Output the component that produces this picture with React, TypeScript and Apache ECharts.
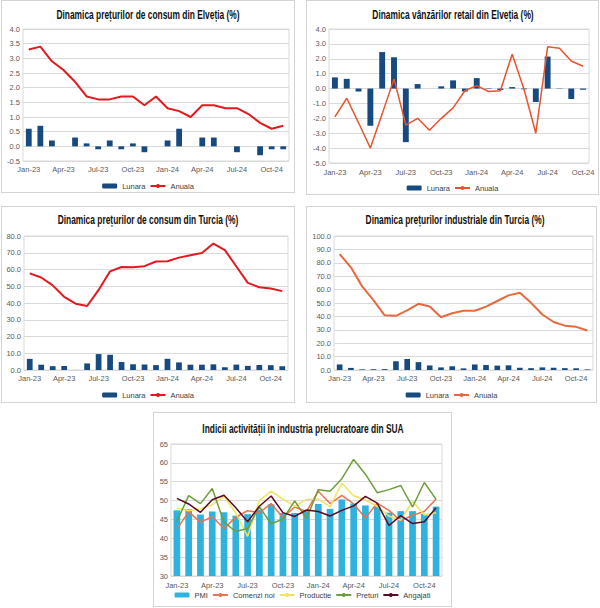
import React, { useEffect, useRef } from "react";
import * as echarts from "echarts";

// ---------- DATA ----------
const months23 = [
  "Jan-23", "Feb-23", "Mar-23", "Apr-23", "May-23", "Jun-23", "Jul-23", "Aug-23", "Sep-23", "Oct-23", "Nov-23", "Dec-23",
  "Jan-24", "Feb-24", "Mar-24", "Apr-24", "May-24", "Jun-24", "Jul-24", "Aug-24", "Sep-24", "Oct-24", "Nov-24",
];
const months22 = months23.slice(0, 22);

const chCpiMonthly = [0.6, 0.7, 0.2, 0.0, 0.3, 0.1, -0.1, 0.2, -0.1, 0.1, -0.2, 0.0, 0.2, 0.6, 0.0, 0.3, 0.3, 0.0, -0.2, 0.0, -0.3, -0.1, -0.1];
const chCpiAnnual = [3.3, 3.4, 2.9, 2.6, 2.2, 1.7, 1.6, 1.6, 1.7, 1.7, 1.4, 1.7, 1.3, 1.2, 1.0, 1.4, 1.4, 1.3, 1.3, 1.1, 0.8, 0.6, 0.7];

const chRetailMonthly = [0.75, 0.65, -0.2, -2.5, 2.45, 2.1, -3.6, 0.3, 0.0, 0.15, 0.55, -0.2, 0.7, 0.03, -0.1, 0.1, -0.05, -0.9, 2.15, 0.02, -0.7, -0.08];
const chRetailAnnual = [-1.9, -0.65, -2.3, -4.0, -1.7, 0.65, -2.45, -2.0, -2.8, -2.0, -1.3, -0.15, 0.2, -0.2, -0.15, 2.3, -0.05, -3.0, 2.8, 2.7, 1.85, 1.5];

const trCpiMonthly = [6.65, 3.15, 2.29, 2.39, 0.04, 3.92, 9.49, 9.09, 4.75, 3.43, 3.28, 2.93, 6.7, 4.53, 3.16, 3.18, 3.37, 1.64, 3.23, 2.47, 2.97, 2.88, 2.24];
const trCpiAnnual = [57.7, 55.2, 50.5, 43.7, 39.6, 38.2, 47.8, 58.9, 61.5, 61.4, 62.0, 64.8, 64.9, 67.1, 68.5, 69.8, 75.5, 71.6, 61.8, 52.0, 49.4, 48.6, 47.1];

const trPpiMonthly = [4.15, 1.56, 0.45, 0.56, 0.65, 6.5, 8.23, 5.89, 3.4, 1.94, 2.77, 1.22, 4.14, 3.74, 3.29, 3.48, 1.67, 1.38, 1.94, 1.68, 1.37, 1.29, 0.42];
const trPpiAnnual = [86.5, 76.6, 62.4, 52.1, 40.8, 40.4, 44.5, 49.4, 47.4, 39.4, 42.3, 44.2, 44.2, 47.3, 51.5, 55.7, 57.7, 50.1, 41.4, 35.8, 33.1, 32.2, 29.5];

const usPmi = [47.4, 47.7, 46.3, 47.1, 46.9, 46.0, 46.4, 47.6, 49.0, 46.7, 46.7, 47.4, 49.1, 47.8, 50.3, 49.2, 48.7, 48.5, 46.8, 47.2, 47.2, 46.5, 48.4];
const usNewOrders = [42.5, 47.0, 44.3, 45.7, 42.6, 45.6, 47.3, 46.8, 49.2, 45.5, 48.3, 47.1, 52.5, 49.2, 51.4, 49.1, 45.4, 49.3, 47.4, 44.6, 46.1, 47.1, 50.4];
const usProduction = [48.0, 47.3, 47.8, 48.9, 51.1, 46.7, 40.5, 50.0, 52.5, 50.4, 48.5, 50.3, 50.4, 48.4, 54.6, 51.3, 50.2, 48.5, 45.9, 44.8, 49.8, 46.2, 46.8];
const usPrices = [44.5, 51.3, 49.2, 53.2, 44.2, 41.8, 42.6, 48.4, 43.8, 45.1, 49.9, 45.2, 52.9, 52.5, 55.8, 60.9, 57.0, 52.1, 52.9, 54.0, 48.3, 54.8, 50.3];
const usEmployment = [50.6, 49.1, 46.9, 50.2, 51.4, 48.1, 44.4, 48.5, 51.2, 46.8, 45.8, 47.5, 47.1, 45.9, 47.4, 48.6, 51.1, 49.3, 43.4, 46.0, 43.9, 44.4, 48.1];

// ---------- STYLE ----------
const FONT = "'Liberation Sans', Arial, sans-serif";
const NAVY = "#174A7E";
const GRID = "#d9d9d9";
const LABEL = "#595959";
const TITLE_SCALE = 0.7;

type Panel = {
  box: { left: number; top: number; width: number; height: number };
  title: string;
  titlePos: [number, number];
  grid: { left: number; right: number; top: number; bottom: number };
  legendTop: number;
  labelMargin: number;
  categories: string[];
  yMin: number;
  yMax: number;
  yInterval: number;
  yDecimals: number;
  series: any[];
};

function buildOption(p: Panel) {
  return {
    animation: false,
    textStyle: { fontFamily: FONT },
    graphic: [
      {
        type: "text",
        x: p.titlePos[0],
        y: p.titlePos[1],
        scaleX: TITLE_SCALE,
        scaleY: 1,
        style: {
          text: p.title,
          font: "bold 12px 'Liberation Sans', Arial, sans-serif",
          fill: "#111",
          textAlign: "center",
          textVerticalAlign: "middle",
          align: "center",
          verticalAlign: "middle",
        },
      },
    ],
    grid: { ...p.grid, show: true, borderColor: GRID, borderWidth: 1, containLabel: false },
    legend: {
      top: p.legendTop,
      left: "center",
      padding: 0,
      itemWidth: 15,
      itemHeight: 5,
      itemGap: 4,
      textStyle: { fontSize: 7.5, color: "#404040", fontFamily: FONT },
      data: p.series.map((s) => s.name),
    },
    xAxis: {
      type: "category",
      data: p.categories,
      boundaryGap: true,
      axisTick: { show: false },
      axisLine: { show: false },
      axisLabel: { interval: 2, fontSize: 7.5, color: LABEL, margin: p.labelMargin, fontFamily: FONT },
    },
    yAxis: {
      type: "value",
      min: p.yMin,
      max: p.yMax,
      interval: p.yInterval,
      axisLine: { show: false },
      axisTick: { show: false },
      axisLabel: {
        fontSize: 7.5,
        color: LABEL,
        margin: 3,
        fontFamily: FONT,
        formatter: (v: number) => v.toFixed(p.yDecimals),
      },
      splitLine: { lineStyle: { color: GRID, width: 1 } },
    },
    series: p.series,
  };
}

const barS = (name: string, data: number[], color: string, width = "50%") => ({
  name, type: "bar", data, barWidth: width, itemStyle: { color },
});
const lineS = (name: string, data: number[], color: string, width = 2) => ({
  name, type: "line", data, symbol: "none", lineStyle: { color, width }, itemStyle: { color },
});

const panels: Panel[] = [
  {
    box: { left: 1, top: 0, width: 294, height: 193 },
    title: "Dinamica prețurilor de consum din Elveția (%)",
    titlePos: [146, 14],
    grid: { left: 21, right: 5, top: 28, bottom: 31 },
    legendTop: 181,
    labelMargin: 4,
    categories: months23,
    yMin: -0.5, yMax: 4, yInterval: 0.5, yDecimals: 1,
    series: [barS("Lunara", chCpiMonthly, NAVY), lineS("Anuala", chCpiAnnual, "#E3191F", 2)],
  },
  {
    box: { left: 306, top: 0, width: 293, height: 195 },
    title: "Dinamica vânzărilor retail din Elveția (%)",
    titlePos: [146, 14],
    grid: { left: 22, right: 9, top: 28, bottom: 31 },
    legendTop: 183,
    labelMargin: 5,
    categories: months22,
    yMin: -5, yMax: 4, yInterval: 1, yDecimals: 1,
    series: [barS("Lunara", chRetailMonthly, NAVY), lineS("Anuala", chRetailAnnual, "#E9532E", 1.5)],
  },
  {
    box: { left: 1, top: 206, width: 294, height: 197 },
    title: "Dinamica prețurilor de consum din Turcia (%)",
    titlePos: [146, 13],
    grid: { left: 22, right: 6, top: 29, bottom: 32 },
    legendTop: 184,
    labelMargin: 4,
    categories: months23,
    yMin: 0, yMax: 80, yInterval: 10, yDecimals: 1,
    series: [barS("Lunara", trCpiMonthly, NAVY), lineS("Anuala", trCpiAnnual, "#E3191F", 2)],
  },
  {
    box: { left: 306, top: 206, width: 291, height: 197 },
    title: "Dinamica prețurilor industriale din Turcia (%)",
    titlePos: [148, 13],
    grid: { left: 27, right: 3, top: 29, bottom: 32 },
    legendTop: 184,
    labelMargin: 4,
    categories: months23,
    yMin: 0, yMax: 100, yInterval: 10, yDecimals: 1,
    series: [barS("Lunara", trPpiMonthly, NAVY), lineS("Anuala", trPpiAnnual, "#E8693D", 2)],
  },
  {
    box: { left: 153, top: 412, width: 299, height: 195 },
    title: "Indicii activității în industria prelucratoare din SUA",
    titlePos: [149, 16],
    grid: { left: 17, right: 9, top: 31, bottom: 30 },
    legendTop: 178,
    labelMargin: 5,
    categories: months23,
    yMin: 30, yMax: 65, yInterval: 5, yDecimals: 0,
    series: [
      barS("PMI", usPmi, "#2FB3DE", "57%"),
      lineS("Comenzi noi", usNewOrders, "#E8744F", 1.5),
      lineS("Productie", usProduction, "#F2E35C", 1.5),
      lineS("Preturi", usPrices, "#6E9E3C", 1.5),
      lineS("Angajati", usEmployment, "#5C0A24", 1.5),
    ],
  },
];

function ChartPanel({ panel }: { panel: Panel }) {
  const ref = useRef<HTMLDivElement>(null);
  useEffect(() => {
    if (!ref.current) return;
    const chart = echarts.init(ref.current, undefined, { renderer: "svg" });
    chart.setOption(buildOption(panel));
    return () => chart.dispose();
  }, [panel]);
  const b = panel.box;
  return (
    <div
      ref={ref}
      style={{
        position: "absolute",
        left: b.left,
        top: b.top,
        width: b.width,
        height: b.height,
        boxSizing: "border-box",
        border: "1px solid #d4d4d4",
        background: "#fff",
      }}
    />
  );
}

export default function App() {
  return (
    <div style={{ position: "absolute", left: 0, top: 0, width: 600, height: 608, background: "#fff" }}>
      {panels.map((p, i) => (
        <ChartPanel key={i} panel={p} />
      ))}
    </div>
  );
}
